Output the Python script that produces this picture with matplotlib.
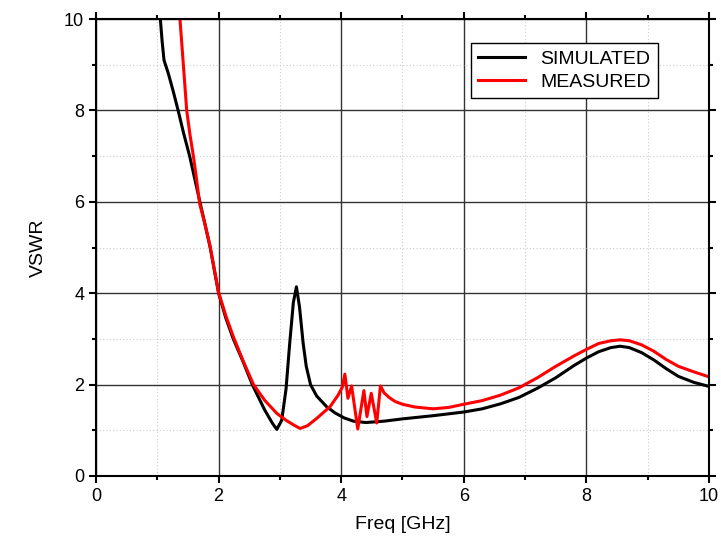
import matplotlib.pyplot as plt
from matplotlib.ticker import MultipleLocator

# VSWR vs frequency, simulated and measured
sim_f = [1.05, 1.08, 1.11, 1.18, 1.26, 1.34, 1.43, 1.53, 1.62, 1.7, 1.78, 1.86, 1.93, 2.0, 2.12,
         2.24, 2.4, 2.55, 2.75, 2.88, 2.95, 3.03, 3.1, 3.16, 3.22, 3.27, 3.32, 3.38, 3.43, 3.5,
         3.6, 3.76, 3.9, 4.05, 4.2, 4.4, 4.7, 5.0, 5.5, 6.0, 6.3, 6.6, 6.9, 7.2, 7.5, 7.8, 8.0,
         8.2, 8.4, 8.55, 8.7, 8.9, 9.1, 9.3, 9.5, 9.75, 10.0]
sim_vswr = [10, 9.5, 9.1, 8.81, 8.42, 8.0, 7.5, 6.99, 6.45, 5.97, 5.5, 5.02, 4.51, 4.0, 3.45,
            3.0, 2.5, 2.0, 1.45, 1.15, 1.02, 1.22, 1.9, 2.9, 3.8, 4.14, 3.7, 2.9, 2.4, 2.0,
            1.75, 1.52, 1.38, 1.27, 1.2, 1.17, 1.2, 1.25, 1.32, 1.4, 1.47, 1.58, 1.72, 1.92, 2.15,
            2.42, 2.58, 2.72, 2.81, 2.84, 2.81, 2.7, 2.54, 2.35, 2.18, 2.05, 1.96]

meas_f = [1.37, 1.42, 1.48, 1.53, 1.59, 1.64, 1.69, 1.78, 1.86, 1.93, 2.0, 2.12, 2.24, 2.4,
          2.57, 2.75, 2.95, 3.1, 3.22, 3.33, 3.45, 3.6, 3.82, 3.95, 4.02, 4.06, 4.11, 4.17, 4.27,
          4.37, 4.42, 4.49, 4.58, 4.64, 4.7, 4.78, 4.88, 5.0, 5.2, 5.5, 5.75, 6.0, 6.3, 6.6, 6.9,
          7.2, 7.5, 7.8, 8.0, 8.2, 8.4, 8.55, 8.7, 8.9, 9.1, 9.3, 9.5, 9.75, 10.0]
meas_vswr = [10, 9.1, 8.0, 7.5, 6.99, 6.5, 5.97, 5.5, 5.04, 4.53, 4.02, 3.5, 3.05, 2.52,
             2.0, 1.66, 1.37, 1.22, 1.12, 1.04, 1.1, 1.26, 1.52, 1.77, 1.95, 2.23, 1.7, 1.97, 1.03,
             1.87, 1.3, 1.81, 1.16, 1.97, 1.82, 1.72, 1.63, 1.57, 1.51, 1.47, 1.5, 1.57, 1.65, 1.77,
             1.93, 2.15, 2.4, 2.63, 2.77, 2.9, 2.96, 2.98, 2.96, 2.87, 2.73, 2.55, 2.4, 2.28, 2.17]

plt.rcParams['font.family'] = ['Liberation Sans', 'DejaVu Sans']

fig = plt.figure(figsize=(7.21, 5.44), dpi=100)
ax = fig.add_axes([0.1331, 0.125, 0.8503, 0.840])

ax.plot(sim_f, sim_vswr, color='black', lw=2.2, label='SIMULATED')
ax.plot(meas_f, meas_vswr, color='red', lw=2.2, label='MEASURED')

ax.set_xlim(0, 10)
ax.set_ylim(0, 10)
ax.xaxis.set_major_locator(MultipleLocator(2))
ax.xaxis.set_minor_locator(MultipleLocator(1))
ax.yaxis.set_major_locator(MultipleLocator(2))
ax.yaxis.set_minor_locator(MultipleLocator(1))

ax.grid(which='major', color='#333333', lw=1.0)
ax.grid(which='minor', color='#cccccc', lw=0.8, ls=(0, (1, 2)))
ax.set_axisbelow(True)

ax.tick_params(which='both', direction='out', top=True, right=True, width=1.5, labelsize=13)
ax.tick_params(which='major', length=5)
ax.tick_params(which='minor', length=3)
for s in ax.spines.values():
    s.set_linewidth(1.5)

ax.set_xlabel('Freq [GHz]', fontsize=14, labelpad=8)
ax.set_ylabel('VSWR', fontsize=14, labelpad=12)

leg = ax.legend(loc='upper right', bbox_to_anchor=(0.932, 0.968), fontsize=14, fancybox=False,
                framealpha=1, edgecolor='black', handlelength=2.4, borderpad=0.35,
                labelspacing=0.3)
leg.get_frame().set_linewidth(1.0)

fig.savefig('out.png', dpi=100)
